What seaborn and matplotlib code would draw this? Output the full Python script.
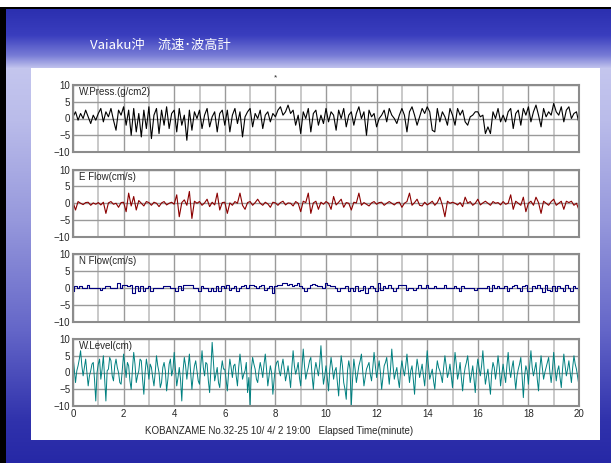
import numpy as np
import pandas as pd
import matplotlib
matplotlib.use("Agg")
import matplotlib.pyplot as plt
import seaborn as sns
from matplotlib.patches import Rectangle

# values (first three: one sample every 0.1 min, W.Level every 0.05 min)
w_press = [
    0.5, 2.0, -0.5, 1.5, 0.0, 2.5, 0.5, -1.5, 1.0, -0.5,
    1.5, 3.0, -1.0, 2.0, 0.5, 3.0, -0.5, -3.5, 2.5, 1.0,
    3.5, -2.0, 2.5, -5.0, 3.0, -4.0, 1.5, -5.5, 2.5, -3.0,
    3.5, -6.0, 1.0, 3.0, -4.5, 2.5, -2.0, 3.5, -3.0, 1.5,
    2.5, -4.0, 3.0, -2.0, 1.0, -6.5, 2.5, -3.5, 2.0, 0.0,
    2.5, -3.0, 1.0, 3.0, -2.5, 0.5, 2.0, -4.0, 1.5, 2.5,
    -2.0, 2.5, -4.0, 1.0, 3.0, -1.5, 2.0, -5.5, 0.5, 2.0,
    3.0, -2.5, 1.5, 0.0, 2.5, -3.0, 1.0, 2.0, -1.0, 1.5,
    0.5, 2.5, 3.5, 1.0, 2.0, 4.0, 1.5, 2.5, -2.0, 1.0,
    -4.5, 2.0, 0.0, 3.0, -4.0, 1.5, 2.5, -2.0, 1.0, -1.5,
    3.0, -1.0, 2.0, 1.0, -3.5, 2.5, 0.0, 3.0, -2.5, 1.0,
    2.0, -2.0, 1.5, 3.5, 0.0, 2.0, -5.0, 2.5, 0.5, 1.5,
    -2.5, 0.0, 1.0, 2.5, -1.0, 3.0, 1.0, 0.0, -1.5, 1.0,
    3.0, 1.0, -4.0, 2.0, 3.5, 1.0, -2.0, 0.5, 3.0, 1.5,
    3.5, 2.0, -3.5, -4.0, 3.0, -1.0, 2.0, 0.5, -2.0, 3.0,
    1.0, -2.0, 3.0, 1.0, 2.5, -1.0, -2.0, 0.5, 1.0, 2.0,
    2.0, 0.5, 1.0, -4.5, -2.5, -4.5, 2.0, 0.0, 3.0, -1.0,
    1.0, -1.0, 2.0, 3.0, -3.0, 1.5, 2.5, -2.0, 3.0, 1.0,
    3.5, -1.0, 2.0, 4.0, 1.0, -2.5, 3.0, 0.5, 2.0, 1.0,
    4.5, 2.0, 1.0, 3.5, -1.0, 2.5, 3.5, 0.0, 1.5, 2.0,
    -1.5,
]
e_flow = [
    0.3, -2.0, 0.5, 0.0, -0.4, 0.2, 0.3, -0.6, 0.1, -0.3,
    0.2, -0.5, 0.3, -3.0, 0.1, 0.5, -0.3, 0.0, -1.2, 0.2,
    0.3, -2.5, 3.0, -0.8, 2.0, -2.0, 0.8, 0.0, -0.8, 0.5,
    0.2, -0.6, 0.3, 0.0, -1.0, 0.1, 0.5, -0.5, 0.0, 0.3,
    -0.3, 2.5, -4.0, 0.2, 1.0, -0.6, 3.5, -4.5, 0.6, 0.0,
    0.5, -0.6, 0.1, 1.2, -1.0, 0.3, -0.5, 3.0, -2.0, 0.2,
    0.3, -3.0, 0.1, -0.6, 0.5, 0.0, 3.0, -0.6, -1.8, 0.2,
    0.5, -0.6, 0.2, 1.2, 0.0, -0.6, 0.3, -0.2, -1.2, 0.3,
    0.1, -0.6, 0.2, 0.6, -0.5, 0.1, 0.0, -0.8, 0.5, 0.0,
    -2.5, 0.6, 0.2, 3.0, -3.0, 0.1, 0.6, -1.8, 0.3, -0.3,
    0.5, 0.0, -1.8, 2.0, -0.5, 0.3, 1.2, -1.2, 0.2, 0.0,
    -2.0, 0.3, 0.1, 3.0, -0.6, 0.2, -0.3, -0.8, 0.1, 0.5,
    -0.3, 0.2, 0.3, -0.6, 0.0, 0.5, 0.0, -0.5, 0.2, 0.3,
    -1.2, 0.0, 0.5, 3.0, -0.6, 0.2, 1.2, -0.6, -0.8, 0.3,
    -0.5, 0.0, 0.6, -0.6, 0.2, 1.8, -0.6, -4.0, 0.6, 0.0,
    0.3, 0.0, -0.5, 0.2, -1.0, 1.8, 0.0, 0.5, -0.6, 0.0,
    1.2, -0.5, 0.1, 0.6, 0.0, -0.6, 0.5, 0.0, 0.2, -0.5,
    0.5, -0.3, 0.0, 2.5, -1.8, 0.6, 0.0, -0.6, 1.8, -2.5,
    0.0, 0.6, -0.6, 1.8, 0.2, -3.0, 0.6, 0.0, -0.6, 0.5,
    1.2, -0.6, 0.0, 0.6, -1.8, 0.6, 0.2, 0.6, -0.6, 0.0,
    -2.0,
]
n_flow = [
    -0.8, 0.5, 0.0, 0.5, 0.0, 0.0, 0.8, 0.0, 0.0, 0.0,
    0.0, -0.5, 0.0, 0.5, 0.5, 0.0, 0.0, 0.0, 1.5, 0.0,
    0.8, 0.8, 0.5, 1.0, -1.5, 0.5, -1.0, 0.5, -0.8, 0.0,
    0.5, -0.8, 0.0, 0.0, 0.0, 0.0, 0.5, 0.5, 0.5, 0.0,
    0.0, -0.8, 0.5, -0.5, 1.0, 0.8, 0.8, 0.8, 0.0, 0.0,
    -0.8, 0.5, 0.0, 0.0, -0.8, 0.0, -1.0, 0.5, -0.8, 0.5,
    0.0, 0.8, -0.5, 0.0, 0.5, -1.0, 0.0, 0.5, 0.8, 0.0,
    0.8, 0.8, 0.5, 0.0, 0.5, 0.8, -0.5, 0.0, 0.5, -1.5,
    0.5, 1.0, 1.0, 1.5, 1.5, 1.0, 1.2, 0.5, 0.8, 1.5,
    0.5, 0.0, -0.8, 0.0, 0.8, 1.2, 0.8, 0.5, 0.5, 0.0,
    1.5, 0.8, 0.5, 0.5, 0.0, -0.8, 0.0, 0.0, 0.5, -1.0,
    0.0, -0.8, 0.5, -1.0, -0.5, 0.5, -1.5, 0.0, 0.5, 0.0,
    -1.0, 1.5, -0.5, 0.5, 0.0, 0.8, 0.0, -0.8, 0.0, 0.8,
    0.8, 1.0, -0.5, 0.0, 0.0, -0.5, 0.0, 0.8, 0.0, 0.0,
    0.8, 0.0, 0.0, 0.5, 0.0, 0.0, 0.0, 0.8, 0.0, 0.0,
    0.0, 0.5, 0.0, -0.8, 0.5, 0.0, 0.0, 0.0, 0.0, -0.5,
    0.0, 0.0, 0.0, 0.0, 0.5, -0.8, 0.8, 0.0, 0.5, 0.0,
    0.0, 0.5, -0.8, 0.0, 0.5, 0.8, 0.0, -0.8, 0.5, 1.0,
    -1.0, -1.0, 0.5, 0.0, 0.8, 0.0, -1.2, 0.8, -0.5, -1.0,
    0.5, -0.8, 0.5, 0.0, -1.0, 0.8, 0.0, -0.8, 0.5, 0.0,
    -1.0,
]
w_level = [
    5.0, 1.0, -3.0, 0.5, 2.0, 4.0, 6.5, 2.0, -1.0, 1.5, 4.0, 0.0, -4.0, -1.0, 0.5, 2.5, 3.0, -2.0, -8.5, 0.0,
    2.5, 4.0, -2.0, 1.0, 5.0, -1.5, -8.5, 0.5, 1.0, 4.5, 3.5, -1.0, -2.5, 2.0, 4.0, 1.5, 0.0, -3.0, -3.5, 1.0,
    5.5, 2.0, -1.5, 3.0, 2.0, -2.5, -5.0, 1.0, 6.0, 2.5, -3.0, -1.0, 0.5, 4.0, 3.5, -2.0, -6.5, 0.0, 4.0, 1.5,
    -2.0, 2.5, 1.5, -1.5, -4.0, 0.0, 5.0, 2.0, 0.0, -4.5, -3.0, 1.5, 3.0, 0.5, -5.5, -2.0, 2.5, 4.0, -1.0, 1.0,
    6.0, 1.0, -4.0, -1.5, 1.5, -2.0, -8.5, 0.5, 4.5, 2.0, -2.0, 1.5, 5.5, 0.0, -5.0, -1.0, 2.0, 3.5, 0.5, -2.5,
    -3.5, 2.0, 6.5, 1.5, -1.0, 3.0, 2.5, -2.5, -6.0, 1.0, 9.0, 3.0, -2.5, -0.5, 1.5, -3.0, -4.5, 0.5, 3.5, 1.0,
    1.0, -2.0, -5.5, 0.0, 4.0, 1.5, -1.5, 2.0, 2.5, -1.0, -4.0, 1.5, 5.5, 2.0, -2.0, -0.5, 0.5, 3.0, -6.0, -1.5,
    -10.0, 1.0, 4.5, 2.5, 1.0, -2.0, -3.0, 0.5, 3.0, 1.0, -1.5, 2.5, 5.5, 1.0, -4.0, -1.0, 2.0, 0.0, -6.5, -2.0,
    1.5, 3.0, 3.5, 0.5, -1.0, 2.0, 4.0, 1.0, -2.5, -0.5, 2.0, -1.0, -4.5, 1.5, 6.5, 2.0, -0.5, 1.0, 3.0, -1.5,
    -4.0, 1.5, 7.0, 2.0, -2.0, 0.0, 1.5, 3.5, 4.5, -1.0, -5.0, 0.5, 3.0, 1.0, -1.0, 2.5, 8.0, 1.5, -3.5, -1.0,
    2.0, -1.5, -5.5, 1.0, 4.5, 1.5, -2.0, 0.5, 1.5, -3.0, -7.0, 0.0, 5.0, 2.0, -3.0, -5.0, -8.0, 0.5, 3.5, 1.0,
    -10.0, -2.0, 4.0, 1.0, -3.0, -0.5, 2.0, 3.5, 5.5, 0.5, -4.0, -1.5, 1.0, 2.0, 3.0, -0.5, -2.5, 1.5, 6.0, 2.0,
    -1.5, 1.0, 3.5, 0.0, -5.0, -1.5, 2.0, 3.0, 4.5, 0.5, -3.5, 1.0, 7.0, 2.0, -2.0, 0.0, 1.5, -2.0, -4.5, 0.5,
    3.5, 1.0, -1.0, 2.0, 5.5, 1.0, -3.0, 0.5, 2.0, -2.0, -6.5, 0.0, 4.0, 1.5, -1.5, 0.5, 2.5, -1.0, -4.0, 1.0,
    6.5, 2.0, -2.0, -0.5, 1.0, -2.5, -5.0, 0.0, 3.5, 1.5, 0.5, -1.0, -3.0, 1.5, 5.0, 2.0, -1.5, 0.0, 2.5, -1.0,
    -4.5, 1.0, 6.0, 2.5, -2.0, 0.0, 3.0, -1.5, -5.5, -1.0, 1.5, 3.0, 5.0, 1.0, -3.0, -0.5, 2.0, -2.0, -6.0, 0.5,
    4.0, 1.5, -1.0, 2.0, 6.5, 1.0, -3.5, -1.0, 1.0, -3.0, -6.5, 0.0, 3.0, 1.5, -2.0, 1.0, 5.0, 1.5, -4.0, -0.5,
    2.5, -0.5, -3.0, 2.0, 6.0, 1.0, -1.5, 1.5, 3.5, -1.0, -5.0, -1.0, 1.0, 2.5, 4.5, -1.0, -7.5, -1.0, 2.0, 0.5,
    -3.5, 2.0, 6.5, 1.5, -1.0, 1.0, 3.0, -2.0, -5.5, 1.0, 5.0, 1.5, -2.0, 0.0, 1.5, 3.0, 4.5, 0.0, -3.0, 1.0,
    6.0, 1.5, -2.5, 0.5, 2.0, -1.5, -4.5, 1.0, 5.5, 2.0, -1.0, 1.0, 3.5, 0.0, -3.0, 1.5, 5.0, 2.5, 1.0, -1.5,
    -4.0,
]

panel_labels = ["W.Press.(g/cm2)", "E Flow(cm/s)", "N Flow(cm/s)", "W.Level(cm)"]
series = [w_press, e_flow, n_flow, w_level]
line_colors = ["#000000", "#8b0000", "#00007f", "#008080"]
x_ticks = [0, 2, 4, 6, 8, 10, 12, 14, 16, 18, 20]
y_ticks = [-10, -5, 0, 5, 10]
title = "Vaiaku沖　流速･波高計"
x_caption = "KOBANZAME No.32-25 10/ 4/ 2 19:00   Elapsed Time(minute)"

W, H = 611, 463
sns.set_style("white")
plt.rcParams["font.family"] = ["Liberation Sans", "DejaVu Sans"]

fig = plt.figure(figsize=(W / 100, H / 100), dpi=100)

# slide background: blue gradient
bg = fig.add_axes([0, 0, 1, 1])
bg.axis("off")
stops_y = [0, 10, 35, 55, 68, 120, 220, 330, 420, 463]
stops_c = np.array([
    [44, 48, 176], [44, 48, 176], [58, 62, 190], [120, 124, 214], [196, 198, 238],
    [186, 188, 234], [150, 152, 220], [100, 102, 200], [48, 50, 172], [38, 40, 166],
]) / 255.0
rows = np.arange(H)
grad = np.stack([np.interp(rows, stops_y, stops_c[:, k]) for k in range(3)], axis=1)
img = np.repeat(grad[:, None, :], W, axis=1)
bg.imshow(img, aspect="auto", extent=[0, W, H, 0])
bg.set_xlim(0, W)
bg.set_ylim(H, 0)
bg.add_patch(Rectangle((0, 0), W, 7, color="white", lw=0))
bg.add_patch(Rectangle((0, 7), W, 1.5, color="black", lw=0))
bg.add_patch(Rectangle((0, 7), 6, H, color="black", lw=0))
bg.add_patch(Rectangle((31, 68), 569, 372, color="white", lw=0))
bg.text(90, 45, title, color="white", fontsize=9.5, va="center",
        family=["Noto Sans CJK JP", "DejaVu Sans"])
bg.text(275, 78, "*", fontsize=6, ha="center", va="center")
bg.text(279, 431, x_caption, fontsize=7, ha="center", va="center")

boxes = [(85, 152), (169.5, 237), (254, 322), (339, 406)]
widths = [0.8, 0.8, 0.8, 0.7]
for i, (vals, lab, col, (top, bot)) in enumerate(zip(series, panel_labels, line_colors, boxes)):
    ax = fig.add_axes([73 / W, (H - bot) / H, 506 / W, (bot - top) / H])
    df = pd.DataFrame({"t": np.linspace(0, 20, len(vals)), "v": vals})
    kw = {"drawstyle": "steps-mid"} if lab.startswith("N") else {}
    sns.lineplot(data=df, x="t", y="v", ax=ax, color=col, linewidth=widths[i], **kw)
    ax.set_xlim(0, 20)
    ax.set_ylim(-10, 10)
    ax.set_xticks(x_ticks)
    ax.set_xticks(range(0, 21), minor=True)
    ax.set_yticks(y_ticks)
    ax.grid(which="major", color="#9a9a9a", lw=1.0)
    ax.grid(which="minor", axis="x", color="#c0c0c0", lw=1.2)
    ax.set_axisbelow(True)
    ax.tick_params(which="both", length=0, labelsize=7, pad=2)
    ax.set_xlabel("")
    ax.set_ylabel("")
    if i < 3:
        ax.set_xticklabels([])
    for s in ax.spines.values():
        s.set_color("#8c8c8c")
        s.set_linewidth(1.5)
    ax.text(0.012, 0.97, lab, transform=ax.transAxes, fontsize=7, va="top", ha="left")

fig.savefig("out.png", dpi=100)
